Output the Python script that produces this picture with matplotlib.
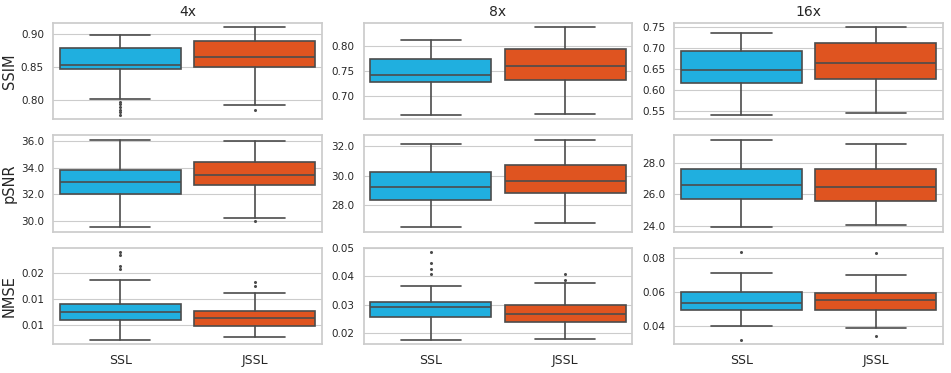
import matplotlib
matplotlib.use('Agg')
import matplotlib.pyplot as plt
import seaborn as sns

##################### DATA #####################
scales = ['4x', '8x', '16x']
metrics = ['SSIM', 'pSNR', 'NMSE']
methods = ['SSL', 'JSSL']

# box stats per scale: [whislo, q1, med, q3, whishi]
ssim_ssl = [[0.801, 0.8474, 0.853, 0.879, 0.8985],
            [0.6615, 0.7277, 0.7412, 0.7728, 0.8128],
            [0.5411, 0.6158, 0.6476, 0.6935, 0.7344]]
ssim_jssl = [[0.7925, 0.8497, 0.865, 0.889, 0.910],
             [0.6642, 0.7324, 0.7588, 0.7939, 0.8371],
             [0.5459, 0.6253, 0.6636, 0.7124, 0.7483]]
psnr_ssl = [[29.54, 32.05, 32.94, 33.85, 36.08],
            [26.54, 28.38, 29.26, 30.22, 32.11],
            [23.89, 25.70, 26.58, 27.66, 29.51]]
psnr_jssl = [[30.26, 32.73, 33.43, 34.44, 36.00],
             [26.85, 28.83, 29.62, 30.70, 32.40],
             [24.04, 25.59, 26.49, 27.66, 29.25]]
nmse_ssl = [[0.00714, 0.01084, 0.0124, 0.0141, 0.01864],
            [0.01762, 0.0256, 0.02929, 0.03094, 0.03654],
            [0.0400, 0.0496, 0.0533, 0.0600, 0.0710]]
nmse_jssl = [[0.00759, 0.00986, 0.01136, 0.01265, 0.01616],
             [0.01798, 0.02393, 0.02655, 0.02976, 0.03774],
             [0.0392, 0.0496, 0.0553, 0.0596, 0.0698]]

# outliers per scale
ssim_ssl_fliers = [[0.797, 0.793, 0.789, 0.785, 0.781, 0.777], [], []]
ssim_jssl_fliers = [[0.785], [], []]
psnr_ssl_fliers = [[], [], []]
psnr_jssl_fliers = [[29.98], [], []]
nmse_ssl_fliers = [[0.02402, 0.02337, 0.02136, 0.02071],
                   [0.04863, 0.0447, 0.04255, 0.04099],
                   [0.0833, 0.0322]]
nmse_jssl_fliers = [[0.01825, 0.01747], [0.04099, 0.03885], [0.0827, 0.0345]]

yticks = {
    'SSIM': [[0.80, 0.85, 0.90], [0.70, 0.75, 0.80], [0.55, 0.60, 0.65, 0.70, 0.75]],
    'pSNR': [[30.0, 32.0, 34.0, 36.0], [28.0, 30.0, 32.0], [24.0, 26.0, 28.0]],
    'NMSE': [[0.010, 0.015, 0.020], [0.02, 0.03, 0.04, 0.05], [0.04, 0.06, 0.08]],
}
tick_fmt = {'SSIM': '%.2f', 'pSNR': '%.1f', 'NMSE': '%.2f'}

stats = {'SSIM': (ssim_ssl, ssim_jssl, ssim_ssl_fliers, ssim_jssl_fliers),
         'pSNR': (psnr_ssl, psnr_jssl, psnr_ssl_fliers, psnr_jssl_fliers),
         'NMSE': (nmse_ssl, nmse_jssl, nmse_ssl_fliers, nmse_jssl_fliers)}
###################################################################

colors = ['#20afdf', '#df5420']
line_col = '#4c4c4c'

sns.set_style('whitegrid')
plt.rcParams['font.family'] = ['DejaVu Sans']

fig, axes = plt.subplots(3, 3, figsize=(9.51, 3.73), dpi=100)
fig.subplots_adjust(left=0.0557, right=0.9916, top=0.9383, bottom=0.0777,
                    wspace=0.156, hspace=0.167)


def make_stats(vals, fliers, label):
    lo, q1, med, q3, hi = vals
    return dict(whislo=lo, q1=q1, med=med, q3=q3, whishi=hi, fliers=fliers, label=label)


for r, metric in enumerate(metrics):
    ssl, jssl, ssl_f, jssl_f = stats[metric]
    for c, scale in enumerate(scales):
        ax = axes[r, c]
        bx = [make_stats(ssl[c], ssl_f[c], methods[0]),
              make_stats(jssl[c], jssl_f[c], methods[1])]
        out = ax.bxp(bx, positions=[0, 1], widths=0.9, capwidths=0.45,
                     patch_artist=True, showfliers=True,
                     boxprops=dict(edgecolor=line_col, linewidth=1.2),
                     medianprops=dict(color=line_col, linewidth=1.2),
                     whiskerprops=dict(color=line_col, linewidth=1.2),
                     capprops=dict(color=line_col, linewidth=1.2),
                     flierprops=dict(marker='o', markersize=1.2,
                                     markerfacecolor=line_col, markeredgecolor=line_col))
        for patch, col in zip(out['boxes'], colors):
            patch.set_facecolor(col)
        ax.set_xlim(-0.5, 1.5)
        ax.set_yticks(yticks[metric][c])
        ax.yaxis.set_major_formatter(plt.FormatStrFormatter(tick_fmt[metric]))
        ax.tick_params(axis='y', labelsize=7.5, pad=3)
        ax.grid(axis='x', visible=False)
        if r == 2:
            ax.set_xticks([0, 1])
            ax.set_xticklabels(methods, fontsize=9)
        else:
            ax.set_xticks([])
        if r == 0:
            ax.set_title(scale, fontsize=10, pad=5)
        if c == 0:
            ax.set_ylabel(metric, fontsize=10.5, labelpad=3)
        for sp in ax.spines.values():
            sp.set_color('#cccccc')
            sp.set_linewidth(1.25)

fig.savefig('out.png', dpi=100)
